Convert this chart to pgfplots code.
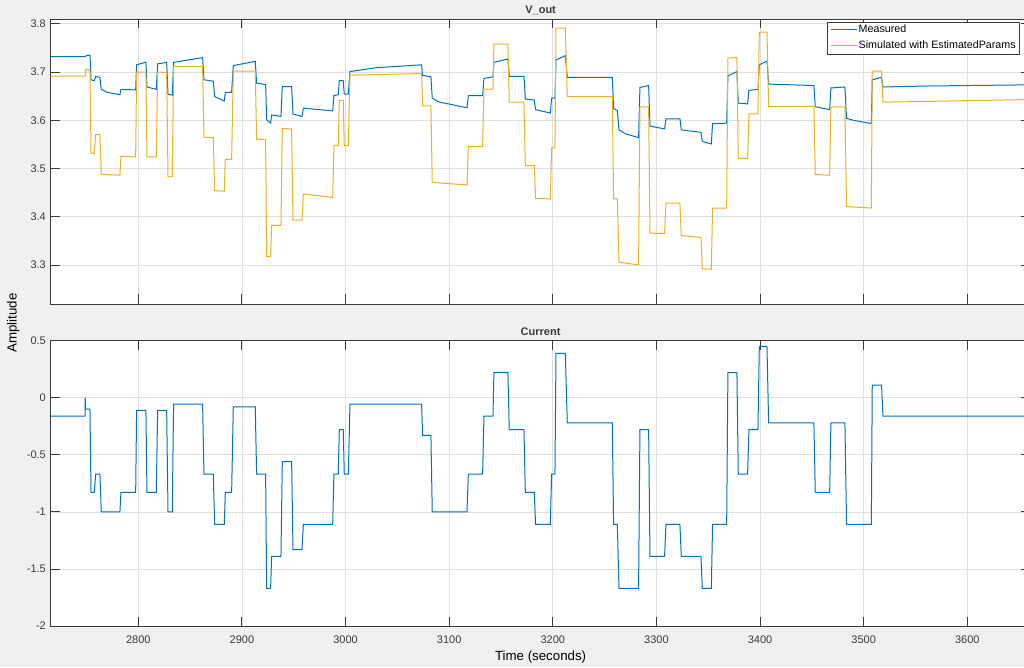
\documentclass[border=0pt]{standalone}
\usepackage{fontspec}
\setmainfont{Liberation Sans}
\usepackage{pgfplots}
\pgfplotsset{compat=1.18}
\definecolor{figbg}{HTML}{F0F0F0}
\definecolor{axcol}{HTML}{3A3A3A}
\definecolor{gridcol}{HTML}{DFDFDF}
\definecolor{mblue}{HTML}{0072BD}
\definecolor{myellow}{HTML}{EDB120}
\pgfplotsset{
  mlstyle/.style={
    scale only axis,
    width=979.8pt,
    xmin=2715.5, xmax=3661,
    axis background/.style={fill=white},
    axis line style={draw=axcol, line width=0.8pt},
    tick style={draw=axcol, line width=0.8pt},
    major tick length=9.5pt,
    tick align=inside,
    xtick={2800,2900,3000,3100,3200,3300,3400,3500,3600},
    grid=major,
    major grid style={draw=gridcol, line width=0.7pt},
    /pgf/number format/assume math mode=true,
    /pgf/number format/1000 sep={},
    ticklabel style={font=\fontsize{11}{13}\selectfont, text=axcol},
    yticklabel style={anchor=east, inner sep=0pt, xshift=-4.7pt},
    xticklabel style={anchor=north, inner sep=0pt, yshift=-9.7pt},
    title style={font=\fontsize{11}{13}\selectfont\bfseries, text=axcol, at={(0.5,1)}, anchor=base, yshift=-0.5pt},
  }
}
\begin{document}
\begin{tikzpicture}[x=1pt,y=1pt]
\fill[figbg] (0,0) rectangle (1024,667);
\useasboundingbox (0,0) rectangle (1024,667);
\node[rotate=90, font=\fontsize{13.3}{15}\selectfont, text=black] at (13.3,344) {Amplitude};
% ---------- top axis ----------
\begin{axis}[mlstyle,
  at={(50.7pt,363pt)}, anchor=south west,
  height=285pt,
  ymin=3.219, ymax=3.810,
  ytick={3.3,3.4,3.5,3.6,3.7,3.8},
  yticklabels={3.3,3.4,3.5,3.6,3.7,3.8},
  xticklabels={},
  title={V\_out},
  legend style={at={(0.9893,0.9905)}, anchor=north east, draw=axcol, line width=0.6pt, fill=white,
    inner xsep=2.3pt, inner ysep=0pt, row sep=0pt,
    font=\fontsize{10.7}{12}\selectfont,
    nodes={inner xsep=1.7pt, inner ysep=2.7pt, text height=8pt, text depth=2.5pt}},
  legend cell align=left,
  legend image code/.code={\draw[#1] (0pt,0pt) -- (26pt,0pt);},
]
\addplot[color=mblue, line width=1pt] coordinates {
(2715.5,3.732) (2748.6,3.732) (2750.0,3.734) (2753.4,3.735) (2754.4,3.684) (2757.6,3.682)
(2758.9,3.691) (2763.0,3.689) (2764.3,3.664) (2770,3.658) (2782.3,3.653) (2783.3,3.664)
(2797.5,3.663) (2798.4,3.715) (2807.4,3.7205) (2808.4,3.669) (2817.4,3.664) (2818.7,3.717)
(2827.4,3.720) (2828.7,3.654) (2832.8,3.652) (2834.1,3.720) (2862.1,3.730) (2863.4,3.684)
(2872.4,3.681) (2873.7,3.649) (2883.0,3.640) (2884.0,3.658) (2890.1,3.658) (2891.7,3.7135)
(2912.9,3.722) (2914.2,3.677) (2922.9,3.674) (2923.9,3.601) (2927.7,3.594) (2928.7,3.611)
(2937.7,3.608) (2939.0,3.670) (2948.0,3.670) (2949.3,3.613) (2958.0,3.608) (2959.3,3.625)
(2987.6,3.6195) (2988.8,3.651) (2993.0,3.653) (2994.0,3.682) (2997.8,3.682) (2998.8,3.654)
(3002.7,3.654) (3004.3,3.701) (3030,3.709) (3073.4,3.715) (3074.4,3.693) (3082.4,3.690)
(3083.7,3.646) (3090,3.638) (3117.2,3.626) (3118.5,3.651) (3132.3,3.651) (3133.6,3.687)
(3142.3,3.690) (3143.2,3.720) (3156.7,3.727) (3158.0,3.691) (3172.2,3.691) (3173.5,3.644)
(3182.2,3.642) (3183.4,3.622) (3197.6,3.615) (3198.9,3.646) (3202.1,3.646) (3203.1,3.725)
(3212.1,3.734) (3214.0,3.689) (3257.4,3.689) (3258.7,3.624) (3262.3,3.620) (3263.9,3.580)
(3270,3.572) (3282.8,3.564) (3284.1,3.668) (3292.5,3.672) (3293.8,3.588) (3307.9,3.582)
(3309.2,3.603) (3322.7,3.603) (3324.0,3.580) (3343.0,3.575) (3344.3,3.556) (3353.0,3.551)
(3354.2,3.593) (3367.8,3.594) (3369.0,3.692) (3377.7,3.701) (3379.0,3.6355) (3388.0,3.634)
(3389.3,3.662) (3398.0,3.664) (3399.3,3.715) (3406.7,3.723) (3408.3,3.675) (3452.0,3.672)
(3453.3,3.628) (3467.2,3.622) (3468.4,3.667) (3481.9,3.669) (3483.5,3.604) (3490,3.600)
(3507.4,3.593) (3508.3,3.684) (3517.3,3.689) (3518.6,3.669) (3560,3.671) (3661,3.6735)
};
\addlegendentry{Measured}
\addplot[color=myellow, line width=1pt] coordinates {
(2715.5,3.6915) (2748.6,3.6915) (2749.5,3.706) (2753.4,3.704) (2754.4,3.532) (2757.6,3.531)
(2758.9,3.570) (2763.0,3.570) (2764.3,3.488) (2782.3,3.486) (2783.3,3.525) (2797.5,3.524)
(2798.4,3.700) (2807.4,3.700) (2808.4,3.524) (2817.4,3.524) (2818.7,3.700) (2827.4,3.699)
(2828.7,3.483) (2832.8,3.483) (2834.1,3.7115) (2862.1,3.7115) (2863.4,3.565) (2872.4,3.564)
(2873.7,3.454) (2883.0,3.453) (2884.0,3.519) (2890.1,3.519) (2891.7,3.702) (2912.9,3.702)
(2914.2,3.561) (2922.9,3.560) (2923.9,3.317) (2927.7,3.317) (2928.7,3.382) (2937.7,3.382)
(2939.0,3.583) (2948.0,3.582) (2949.3,3.393) (2958.0,3.393) (2959.3,3.447) (2987.6,3.440)
(2988.8,3.5475) (2993.0,3.5475) (2994.0,3.641) (2997.8,3.641) (2998.8,3.5475) (3002.7,3.5475)
(3004.3,3.6935) (3073.4,3.697) (3074.4,3.630) (3082.4,3.630) (3083.7,3.471) (3117.2,3.466)
(3118.5,3.5455) (3132.3,3.5455) (3133.6,3.6645) (3142.3,3.6645) (3143.2,3.758) (3156.7,3.758)
(3158.0,3.6375) (3172.2,3.6375) (3173.5,3.506) (3182.2,3.506) (3183.4,3.438) (3197.6,3.437)
(3198.9,3.543) (3202.1,3.543) (3203.1,3.791) (3212.1,3.791) (3214.0,3.649) (3257.4,3.649)
(3258.7,3.437) (3262.3,3.437) (3263.9,3.3056) (3282.8,3.300) (3284.1,3.628) (3292.5,3.628)
(3293.8,3.366) (3307.9,3.365) (3309.2,3.428) (3322.7,3.428) (3324.0,3.361) (3343.0,3.357)
(3344.3,3.292) (3353.0,3.291) (3354.2,3.418) (3367.8,3.418) (3369.0,3.729) (3377.7,3.730)
(3379.0,3.521) (3388.0,3.521) (3389.3,3.613) (3398.0,3.613) (3399.3,3.783) (3406.7,3.783)
(3408.3,3.628) (3452.0,3.629) (3453.3,3.4875) (3467.2,3.486) (3468.4,3.628) (3481.9,3.628)
(3483.5,3.421) (3507.4,3.418) (3508.3,3.702) (3517.3,3.702) (3518.6,3.6375) (3661,3.643)
};
\addlegendentry{Simulated with EstimatedParams}
\end{axis}
% ---------- bottom axis ----------
\begin{axis}[mlstyle,
  at={(50.7pt,41pt)}, anchor=south west,
  height=285.3pt,
  ymin=-2, ymax=0.5,
  ytick={-2,-1.5,-1,-0.5,0,0.5},
  yticklabels={-2,-1.5,-1,-0.5,0,0.5},
  xticklabels={2800,2900,3000,3100,3200,3300,3400,3500,3600},
  title={Current},
  xlabel={Time (seconds)},
  xlabel style={font=\fontsize{13.3}{15}\selectfont, text=black, at={(axis description cs:0.5,0)}, anchor=base, yshift=-34pt},
]
\addplot[color=mblue, line width=1pt] coordinates {
(2715.5,-0.16) (2748.6,-0.16) (2748.8,0.0) (2749.3,-0.10) (2753.4,-0.10) (2754.4,-0.83)
(2757.6,-0.83) (2758.9,-0.67) (2763.0,-0.67) (2764.3,-1.0) (2782.3,-1.0) (2783.3,-0.83)
(2797.5,-0.83) (2798.4,-0.11) (2807.4,-0.11) (2808.4,-0.83) (2817.4,-0.83) (2818.7,-0.11)
(2827.4,-0.11) (2828.7,-1.0) (2832.8,-1.0) (2834.1,-0.055) (2862.1,-0.055) (2863.4,-0.67)
(2872.4,-0.67) (2873.7,-1.11) (2883.0,-1.11) (2884.0,-0.83) (2890.1,-0.83) (2891.7,-0.08)
(2912.9,-0.08) (2914.2,-0.67) (2922.9,-0.67) (2923.9,-1.67) (2927.7,-1.67) (2928.7,-1.39)
(2937.7,-1.39) (2939.0,-0.56) (2948.0,-0.56) (2949.3,-1.33) (2958.0,-1.33) (2959.3,-1.11)
(2987.6,-1.11) (2988.8,-0.67) (2993.0,-0.67) (2994.0,-0.28) (2997.8,-0.28) (2998.8,-0.67)
(3002.7,-0.67) (3004.3,-0.055) (3073.4,-0.055) (3074.4,-0.33) (3082.4,-0.33) (3083.7,-1.0)
(3117.2,-1.0) (3118.5,-0.67) (3132.3,-0.67) (3133.6,-0.16) (3142.3,-0.16) (3143.2,0.22)
(3156.7,0.22) (3158.0,-0.28) (3172.2,-0.28) (3173.5,-0.83) (3182.2,-0.83) (3183.4,-1.11)
(3197.6,-1.11) (3198.9,-0.67) (3202.1,-0.67) (3203.1,0.39) (3212.1,0.39) (3214.0,-0.22)
(3257.4,-0.22) (3258.7,-1.11) (3262.3,-1.11) (3263.9,-1.67) (3282.8,-1.67) (3284.1,-0.28)
(3292.5,-0.28) (3293.8,-1.39) (3307.9,-1.39) (3309.2,-1.11) (3322.7,-1.11) (3324.0,-1.39)
(3343.0,-1.39) (3344.3,-1.67) (3353.0,-1.67) (3354.2,-1.11) (3367.8,-1.11) (3369.0,0.22)
(3377.7,0.22) (3379.0,-0.67) (3388.0,-0.67) (3389.3,-0.28) (3398.0,-0.28) (3399.3,0.45)
(3406.7,0.45) (3408.3,-0.22) (3452.0,-0.22) (3453.3,-0.83) (3467.2,-0.83) (3468.4,-0.22)
(3481.9,-0.22) (3483.5,-1.11) (3507.4,-1.11) (3508.3,0.11) (3517.3,0.11) (3518.6,-0.16)
(3661,-0.16)
};
\end{axis}
\end{tikzpicture}
\end{document}
